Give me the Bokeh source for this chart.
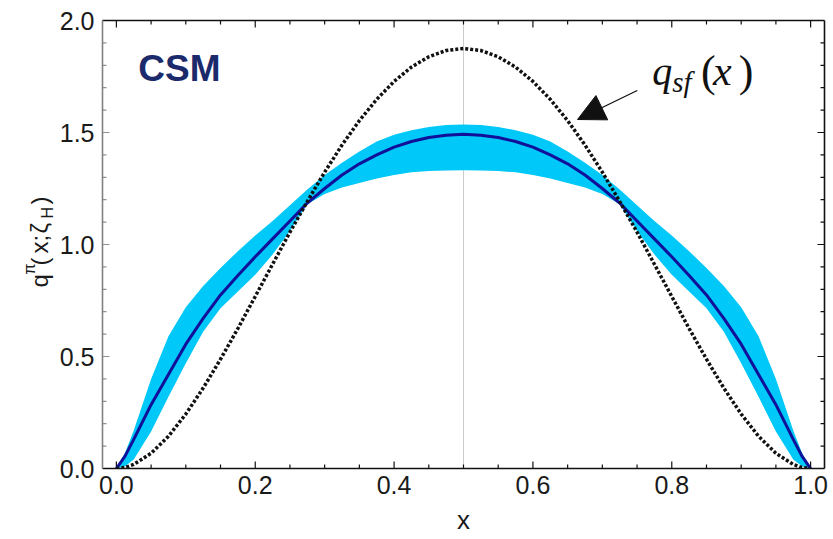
import math
import numpy as np
from bokeh.plotting import figure
from bokeh.layouts import row
from bokeh.models import (Range1d, LinearAxis, SingleIntervalTicker, Span,
                          Arrow, NormalHead, CustomJSTickFormatter, PrintfTickFormatter)
from bokeh.core.properties import value
from bokeh.embed import file_html
from bokeh.resources import INLINE

# ---- data ----
x_grid = [0.0, 0.0125, 0.025, 0.05, 0.075, 0.1, 0.125, 0.15, 0.175, 0.2, 0.225, 0.25,
          0.275, 0.3, 0.325, 0.35, 0.375, 0.4, 0.425, 0.45, 0.475, 0.5,
          0.525, 0.55, 0.575, 0.6, 0.625, 0.65, 0.675, 0.7, 0.725, 0.75, 0.775,
          0.8, 0.825, 0.85, 0.875, 0.9, 0.925, 0.95, 0.975, 0.9875, 1.0]

q_central = [0.0, 0.055, 0.13, 0.285, 0.42, 0.555, 0.67, 0.775, 0.862, 0.945, 1.025, 1.105,
             1.185, 1.25, 1.31, 1.36, 1.40, 1.435, 1.46, 1.478, 1.488, 1.492,
             1.488, 1.478, 1.46, 1.435, 1.40, 1.36, 1.31, 1.25, 1.185, 1.105, 1.025,
             0.945, 0.862, 0.775, 0.67, 0.555, 0.42, 0.285, 0.13, 0.055, 0.0]

q_upper = [0.0, 0.07, 0.17, 0.40, 0.59, 0.72, 0.815, 0.895, 0.97, 1.04, 1.105, 1.175,
           1.245, 1.31, 1.365, 1.415, 1.46, 1.49, 1.51, 1.525, 1.533, 1.536,
           1.533, 1.525, 1.51, 1.49, 1.46, 1.415, 1.365, 1.31, 1.245, 1.175, 1.105,
           1.04, 0.97, 0.895, 0.815, 0.72, 0.59, 0.40, 0.17, 0.07, 0.0]

q_lower = [0.0, 0.01, 0.04, 0.165, 0.32, 0.47, 0.61, 0.715, 0.79, 0.865, 0.955, 1.06,
           1.18, 1.225, 1.255, 1.275, 1.295, 1.31, 1.322, 1.328, 1.33, 1.331,
           1.33, 1.328, 1.322, 1.31, 1.295, 1.275, 1.255, 1.225, 1.18, 1.06, 0.955,
           0.865, 0.79, 0.715, 0.61, 0.47, 0.32, 0.165, 0.04, 0.01, 0.0]

q_sf = [0.0, 0.0046, 0.018, 0.068, 0.144, 0.243, 0.359, 0.488, 0.625, 0.768, 0.912, 1.055,
        1.192, 1.323, 1.444, 1.553, 1.648, 1.728, 1.792, 1.838, 1.866, 1.875,
        1.866, 1.838, 1.792, 1.728, 1.648, 1.553, 1.444, 1.323, 1.192, 1.055, 0.912,
        0.768, 0.625, 0.488, 0.359, 0.243, 0.144, 0.068, 0.018, 0.0046, 0.0]

x_ticks = [0.0, 0.2, 0.4, 0.6, 0.8, 1.0]
y_ticks = [0.0, 0.5, 1.0, 1.5, 2.0]

# ---- geometry ----
X0, X1, Y0, Y1 = -0.02, 1.02, 0.0, 2.0
W, H = 833, 539
LW = 56                      # width of the strip holding the y label
FL, FR, FT, FB = 99, 824, 20, 468   # frame edges in page pixels
FONT = "Liberation Sans"
SERIF = "Liberation Serif"
BL = 0.33                    # observed baseline drop (in em) of rendered text

p = figure(width=W - LW, height=H, output_backend="svg", toolbar_location=None,
           x_range=Range1d(X0, X1), y_range=Range1d(Y0, Y1),
           min_border_left=FL - LW, min_border_right=W - FR,
           min_border_top=FT, min_border_bottom=H - FB,
           x_axis_type=None, y_axis_type=None)
p.grid.visible = False
p.outline_line_color = None
p.background_fill_color = "white"
p.border_fill_color = "white"

PX_X = (FR - FL) / (X1 - X0)
PX_Y = (FB - FT) / (Y1 - Y0)

def sx2d(sx):
    return X0 + (sx - FL) / PX_X

def sy2d(sy):
    return Y0 + (FB - sy) / PX_Y

def make_axis(kind, labels, color):
    ax = LinearAxis()
    if kind == "x":
        ax.ticker = SingleIntervalTicker(interval=0.2, num_minor_ticks=4)
    else:
        ax.ticker = SingleIntervalTicker(interval=0.5, num_minor_ticks=5)
    ax.axis_line_color = color
    ax.axis_line_width = 1.6
    ax.major_tick_in = 0
    ax.major_tick_out = 0
    ax.minor_tick_in = 0
    ax.minor_tick_out = 0
    ax.major_tick_line_color = None
    ax.minor_tick_line_color = None
    if labels:
        ax.formatter = PrintfTickFormatter(format="%.1f")
        ax.major_label_text_font = FONT
        ax.major_label_text_font_size = "25px"
        ax.major_label_text_color = "#1a1a1a"
    else:
        ax.formatter = CustomJSTickFormatter(code="return ''")
        ax.major_label_text_font_size = "1px"
    return ax

xb = make_axis("x", True, "#111111")
xb.major_label_standoff = 7
xb.axis_label = "x"
xb.axis_label_text_font = FONT
xb.axis_label_text_font_size = "26px"
xb.axis_label_text_font_style = "normal"
xb.axis_label_text_color = "#1a1a1a"
xb.axis_label_standoff = 8
p.add_layout(xb, "below")

yl = make_axis("y", True, "#808080")
yl.major_label_standoff = 8
p.add_layout(yl, "left")

p.add_layout(make_axis("x", False, "#111111"), "above")
p.add_layout(make_axis("y", False, "#111111"), "right")

# inward ticks (Mathematica-style frame ticks), drawn at the axis tick positions
xt_major = np.array(x_ticks)
xt_minor = np.array([v for v in np.round(np.arange(0.0, 1.0001, 0.05), 4)
                     if not np.isclose(v % 0.2, 0) and not np.isclose(v % 0.2, 0.2)])
yt_major = np.array(y_ticks)
yt_minor = np.array([v for v in np.round(np.arange(0.0, 2.0001, 0.1), 4)
                     if not np.isclose(v % 0.5, 0) and not np.isclose(v % 0.5, 0.5)])
MAJ, MIN = 7, 4
for ticks, L in [(xt_major, MAJ), (xt_minor, MIN)]:
    p.segment(x0=ticks, y0=Y0, x1=ticks, y1=Y0 + L / PX_Y, line_color="#111111", line_width=1.2)
    p.segment(x0=ticks, y0=Y1, x1=ticks, y1=Y1 - L / PX_Y, line_color="#111111", line_width=1.2)
for ticks, L in [(yt_major, MAJ), (yt_minor, MIN)]:
    p.segment(x0=X0, y0=ticks, x1=X0 + L / PX_X, y1=ticks, line_color="#909090", line_width=1.2)
    p.segment(x0=X1, y0=ticks, x1=X1 - L / PX_X, y1=ticks, line_color="#111111", line_width=1.2)

# vertical reference line at x = 0.5
p.add_layout(Span(location=0.5, dimension="height", line_color="#cccccc",
                  line_width=1, level="underlay"))

# band, central curve, q_sf
p.varea(x=x_grid, y1=q_lower, y2=q_upper, fill_color="#00c8f8", fill_alpha=1.0)
p.line(x=x_grid, y=q_central, line_color="#10109a", line_width=3)
p.line(x=x_grid, y=q_sf, line_color="#111111", line_width=3.5, line_dash="3 2")

def put_text(fig, sx, sy, t, font, fs, style="normal", color="#111111"):
    anchor_sy = sy - BL * fs
    fig.text(x=[sx2d(sx)], y=[sy2d(anchor_sy)], text=[t], text_font=value(font),
             text_font_size=f"{fs}px", text_font_style=style, text_color=color,
             text_baseline="alphabetic", text_align="left")

# CSM label (baseline at page y = 80)
put_text(p, 135, 80, "CSM", FONT, 37, "bold", "#1b2a6b")

# q_sf(x) label (math-like)
put_text(p, 651, 84, "q", SERIF, 40, "italic")
put_text(p, 671, 91, "sf", SERIF, 29, "italic")
put_text(p, 700, 86, "(", SERIF, 44, "normal")
put_text(p, 712, 84, "x", SERIF, 42, "italic")
put_text(p, 738, 86, ")", SERIF, 44, "normal")

# arrow
p.add_layout(Arrow(x_start=sx2d(636), y_start=sy2d(90), x_end=sx2d(576), y_end=sy2d(119),
                   line_color="#111111", line_width=1.3,
                   end=NormalHead(size=27, fill_color="#111111", line_color="#111111",
                                  line_width=1)))

# ---- strip with the rotated y label q^pi(x;zeta_H) ----
# In the row the strip's frame is aligned with the main frame (top 20, bottom 468)
# and keeps a right border equal to the main one, so map its ranges to page pixels.
SFR = LW - (W - FR)
q = figure(width=LW, height=H, output_backend="svg", toolbar_location=None,
           x_range=Range1d(0, SFR), y_range=Range1d(H - FB, H - FT),
           min_border=0, min_border_left=0, min_border_right=0,
           min_border_top=0, min_border_bottom=0,
           x_axis_type=None, y_axis_type=None)
q.grid.visible = False
q.outline_line_color = None
q.background_fill_color = "white"
q.border_fill_color = "white"

yb = 41  # wanted baseline x (page pixels)
# (glyph, page y where the glyph starts (bottom, text runs upward), baseline shift, size)
ylab = [
    ("q", 287, 0, 24),
    ("π", 274, -11, 16),
    ("(", 265, 0, 24),
    ("x", 253, 0, 24),
    (";", 241, 0, 24),
    ("ζ", 233, 0, 24),
    ("H", 218, 4, 16),
    (")", 204, 0, 24),
]
for t, sy, shift, fs in ylab:
    # rotated by +90deg: glyph "down" points to +x on screen
    q.text(x=[yb + shift - BL * fs], y=[H - sy], text=[t], text_font=value(FONT),
           text_font_size=f"{fs}px", text_color="#1a1a1a", angle=math.pi / 2,
           text_baseline="alphabetic", text_align="left")

layout = row(q, p, spacing=0)
open("out.html", "w").write(file_html(layout, INLINE))
